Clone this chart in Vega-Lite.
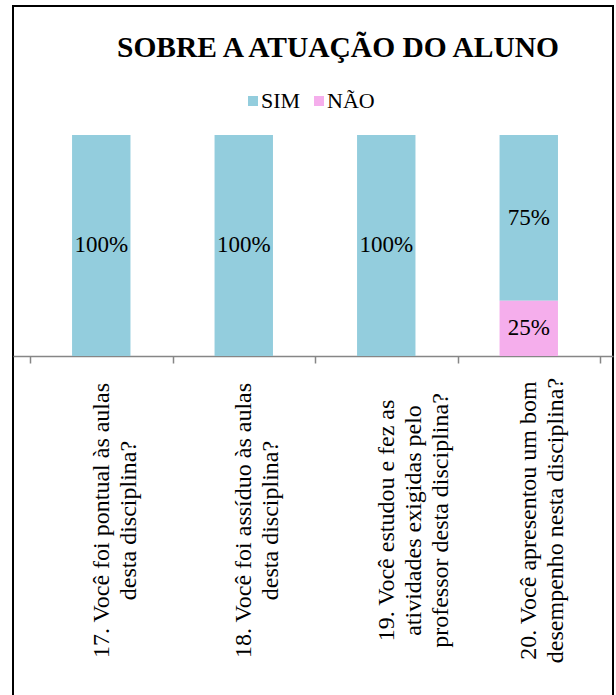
{
  "$schema": "https://vega.github.io/schema/vega-lite/v6.json",
  "width": 600,
  "height": 700,
  "autosize": {"type": "none"},
  "padding": {"left": 13, "top": 6, "right": 3, "bottom": 0},
  "background": "white",
  "config": {"view": {"stroke": "black", "strokeWidth": 2}, "font": "Liberation Serif"},
  "title": {
    "text": "SOBRE A ATUAÇÃO DO ALUNO",
    "font": "Liberation Serif",
    "fontSize": 29.5,
    "fontWeight": "bold",
    "color": "black",
    "anchor": "middle",
    "frame": "group",
    "dx": 25,
    "offset": -80,
    "baseline": "alphabetic"
  },
  "data": {
    "values": [
      {"pergunta": "17. Você foi pontual às aulas|desta disciplina?", "resposta": "SIM", "valor": 1},
      {"pergunta": "18. Você foi assíduo às aulas|desta disciplina?", "resposta": "SIM", "valor": 1},
      {"pergunta": "19. Você estudou e fez as|atividades exigidas pelo|professor desta disciplina?", "resposta": "SIM", "valor": 1},
      {"pergunta": "20. Você apresentou um bom|desempenho nesta disciplina?", "resposta": "SIM", "valor": 0.75},
      {"pergunta": "20. Você apresentou um bom|desempenho nesta disciplina?", "resposta": "NÃO", "valor": 0.25}
    ]
  },
  "encoding": {
    "x": {
      "field": "pergunta",
      "type": "nominal",
      "sort": null,
      "scale": {"paddingInner": 0, "paddingOuter": 0.10526, "align": 0.567},
      "axis": {
        "title": null,
        "orient": "bottom",
        "offset": -350,
        "domainColor": "#868686",
        "domainWidth": 1.5,
        "tickColor": "#868686",
        "tickWidth": 1.5,
        "tickSize": 7,
        "tickBand": "extent",
        "labelAngle": 270,
        "labelAlign": "center",
        "labelBaseline": "middle",
        "labelFont": "Liberation Serif",
        "labelFontSize": 24,
        "labelColor": "black",
        "labelLineHeight": 27,
        "labelLimit": 500,
        "labelOverlap": false,
        "labelPadding": 157,
        "labelExpr": "split(datum.label, '|')"
      }
    }
  },
  "layer": [
    {
      "mark": {"type": "bar", "width": {"band": 0.41}},
      "encoding": {
        "y": {
          "field": "valor",
          "type": "quantitative",
          "stack": "zero",
          "scale": {"domain": [-1.5837, 1.5837], "nice": false, "zero": false},
          "axis": null
        },
        "color": {
          "field": "resposta",
          "type": "nominal",
          "scale": {"domain": ["SIM", "NÃO"], "range": ["#93CDDD", "#F5AEEC"]},
          "legend": {
            "title": null,
            "orient": "none",
            "legendX": 229,
            "legendY": 84,
            "direction": "horizontal",
            "symbolType": "square",
            "symbolSize": 100,
            "symbolStrokeWidth": 0,
            "labelFont": "Liberation Serif",
            "labelFontSize": 22,
            "labelColor": "black",
            "labelOffset": -3,
            "columnPadding": 7,
            "padding": 0
          }
        },
        "order": {"field": "resposta", "type": "ordinal", "sort": "ascending"}
      }
    },
    {
      "transform": [
        {"stack": "valor", "groupby": ["pergunta"], "sort": [{"field": "resposta", "order": "ascending"}], "as": ["v0", "v1"]},
        {"calculate": "(datum.v0 + datum.v1) / 2", "as": "meio"}
      ],
      "mark": {"type": "text", "font": "Liberation Serif", "fontSize": 23, "color": "black"},
      "encoding": {
        "y": {"field": "meio", "type": "quantitative"},
        "text": {"field": "valor", "type": "quantitative", "format": ".0%"}
      }
    }
  ]
}
